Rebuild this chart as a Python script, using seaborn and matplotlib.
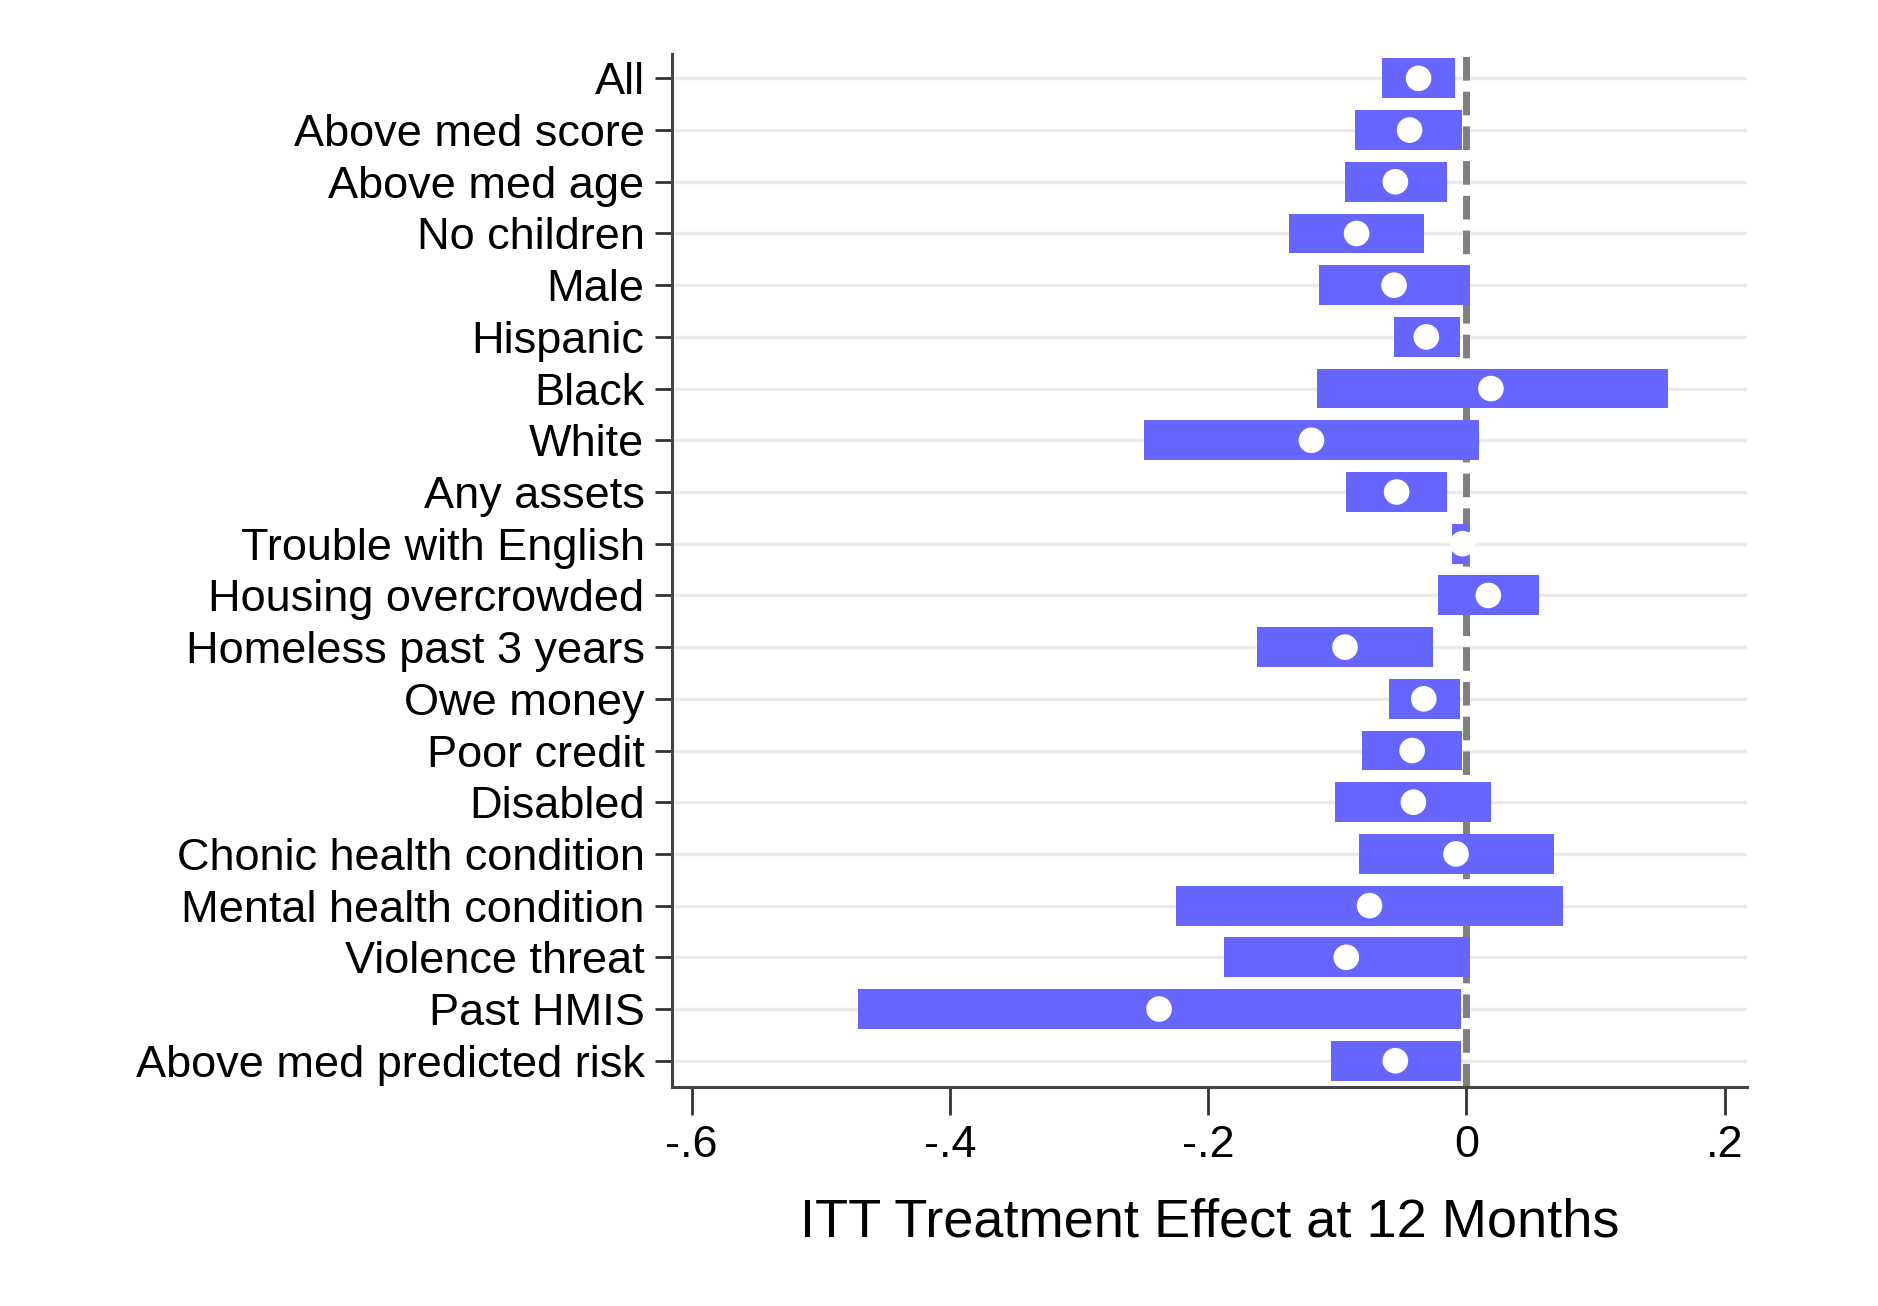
import numpy as np
import pandas as pd
import matplotlib
matplotlib.use("Agg")
import matplotlib.pyplot as plt
import seaborn as sns

# subgroups, top to bottom
groups = ["All", "Above med score", "Above med age", "No children", "Male",
          "Hispanic", "Black", "White", "Any assets", "Trouble with English",
          "Housing overcrowded", "Homeless past 3 years", "Owe money",
          "Poor credit", "Disabled", "Chonic health condition",
          "Mental health condition", "Violence threat", "Past HMIS",
          "Above med predicted risk"]

# point estimates and interval ends
effect = [-0.037, -0.044, -0.055, -0.085, -0.056, -0.031, 0.019, -0.120,
          -0.054, -0.003, 0.017, -0.094, -0.033, -0.042, -0.041, -0.008,
          -0.075, -0.093, -0.238, -0.055]
ci_low = [-0.065, -0.086, -0.094, -0.137, -0.114, -0.056, -0.116, -0.250,
          -0.093, -0.011, -0.022, -0.162, -0.060, -0.081, -0.102, -0.083,
          -0.225, -0.188, -0.471, -0.105]
ci_high = [-0.009, -0.003, -0.015, -0.033, 0.003, -0.005, 0.156, 0.010,
           -0.015, 0.002, 0.056, -0.026, -0.005, -0.003, 0.019, 0.068,
           0.075, 0.003, -0.004, -0.004]

xticks = [-0.6, -0.4, -0.2, 0.0, 0.2]
xtick_labels = ["-.6", "-.4", "-.2", "0", ".2"]

df = pd.DataFrame({"group": groups, "effect": effect,
                   "lo": ci_low, "hi": ci_high})
df["pos"] = np.arange(len(df))

sns.set_style("white")
plt.rcParams['font.family'] = ['Liberation Sans', 'DejaVu Sans']
plt.rcParams['text.color'] = 'black'
plt.rcParams['xtick.color'] = 'black'
plt.rcParams['ytick.color'] = 'black'
plt.rcParams['axes.labelcolor'] = 'black'

fig = plt.figure(figsize=(18.78, 13.06), dpi=100)
ax = fig.add_axes([0.358, 0.168, 0.572, 0.791])

# light horizontal grid at each row
for p in df["pos"]:
    ax.axhline(p, color="#ebebeb", lw=2.5, zorder=0)

# zero reference line
ax.axvline(0, color="#7f7f7f", lw=5.0, dashes=(3.4, 1.6), zorder=1)

# confidence interval bars
ax.barh(df["pos"], df["hi"] - df["lo"], left=df["lo"], height=0.77,
        color="#6666ff", edgecolor="none", zorder=2)

# point estimates
sns.scatterplot(data=df, x="effect", y="pos", ax=ax, color="white",
                s=340, edgecolor="none", zorder=3, legend=False)

ax.set_ylim(19.5, -0.48)
ax.set_xlim(-0.615, 0.217)
ax.set_yticks(df["pos"])
ax.set_yticklabels(df["group"], fontsize=32.5)
ax.set_xticks(xticks)
ax.set_xticklabels(xtick_labels, fontsize=32.5)
ax.set_ylabel("")
ax.set_xlabel("ITT Treatment Effect at 12 Months", fontsize=39, labelpad=22)

ax.tick_params(axis="y", direction="out", length=12, width=2, pad=8,
               color="#333333", left=True)
ax.tick_params(axis="x", direction="out", length=20, width=2, pad=8,
               color="#333333", bottom=True)

sns.despine(ax=ax, top=True, right=True)
for side in ["left", "bottom"]:
    ax.spines[side].set_color("#444444")
    ax.spines[side].set_linewidth(2.2)

fig.savefig("out.png", dpi=100)
